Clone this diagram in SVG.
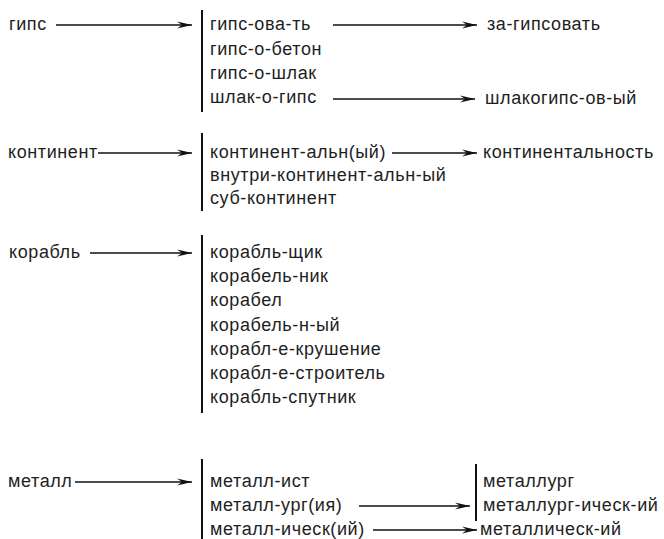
<svg xmlns="http://www.w3.org/2000/svg" width="664" height="539" viewBox="0 0 664 539">
<defs>
<marker id="ah" markerWidth="16" markerHeight="8" refX="15" refY="4" orient="auto" markerUnits="userSpaceOnUse">
<path d="M0,0.5 L15,4 L0,7.5 L5,4 Z" fill="#111"/>
</marker>
<style>
text{font-family:"Liberation Sans",Arial,sans-serif;font-size:18px;letter-spacing:0.6px;fill:#1e1e1e}
.c line.a{stroke:#111;stroke-width:1.3;marker-end:url(#ah)}
.bar{stroke:#111;stroke-width:2}
</style>
</defs>
<rect width="664" height="539" fill="#fff"/>
<g id="n-gips"><text x="9" y="30">гипс</text></g>
<g id="n-gips-derivs">
<line class="bar" x1="202" y1="10" x2="202" y2="112"/>
<text x="210" y="30">гипс-ова-ть</text>
<text x="210" y="55">гипс-о-бетон</text>
<text x="210" y="79">гипс-о-шлак</text>
<text x="210" y="103">шлак-о-гипс</text>
</g>
<g id="n-zagips"><text x="487" y="30">за-гипсовать</text></g>
<g id="n-shlakogips"><text x="485" y="104">шлакогипс-ов-ый</text></g>

<g id="n-kont"><text x="8" y="158">континент</text></g>
<g id="n-kont-derivs">
<line class="bar" x1="202" y1="133" x2="202" y2="211"/>
<text x="210" y="158">континент-альн(ый)</text>
<text x="210" y="181">внутри-континент-альн-ый</text>
<text x="210" y="204">суб-континент</text>
</g>
<g id="n-kontinentalnost"><text x="483" y="158">континентальность</text></g>

<g id="n-korabl"><text x="9" y="258">корабль</text></g>
<g id="n-korabl-derivs">
<line class="bar" x1="202" y1="235" x2="202" y2="413"/>
<text x="210" y="258">корабль-щик</text>
<text x="210" y="282">корабель-ник</text>
<text x="210" y="306">корабел</text>
<text x="210" y="331">корабель-н-ый</text>
<text x="210" y="355">корабл-е-крушение</text>
<text x="210" y="379">корабл-е-строитель</text>
<text x="210" y="403">корабль-спутник</text>
</g>

<g id="n-metall"><text x="8" y="487">металл</text></g>
<g id="n-metall-derivs">
<line class="bar" x1="202" y1="459" x2="202" y2="539"/>
<text x="210" y="487">металл-ист</text>
<text x="210" y="511">металл-ург(ия)</text>
<text x="210" y="535">металл-ическ(ий)</text>
</g>
<g id="n-metallurg">
<line class="bar" x1="476" y1="464" x2="476" y2="521"/>
<text x="483" y="487">металлург</text>
<text x="483" y="511">металлург-ическ-ий</text>
</g>
<g id="n-metallich"><text x="480" y="535">металлическ-ий</text></g>

<g id="connectors" class="c">
<line class="a" x1="56" y1="25" x2="192" y2="25"/>
<line class="a" x1="333" y1="25" x2="477" y2="25"/>
<line class="a" x1="333" y1="99" x2="475" y2="99"/>
<line class="a" x1="98" y1="153" x2="192" y2="153"/>
<line class="a" x1="392" y1="153" x2="477" y2="153"/>
<line class="a" x1="90" y1="253" x2="192" y2="253"/>
<line class="a" x1="75" y1="482" x2="192" y2="482"/>
<line class="a" x1="359" y1="506" x2="470" y2="506"/>
<line class="a" x1="373" y1="530" x2="477" y2="530"/>
</g>
</svg>
